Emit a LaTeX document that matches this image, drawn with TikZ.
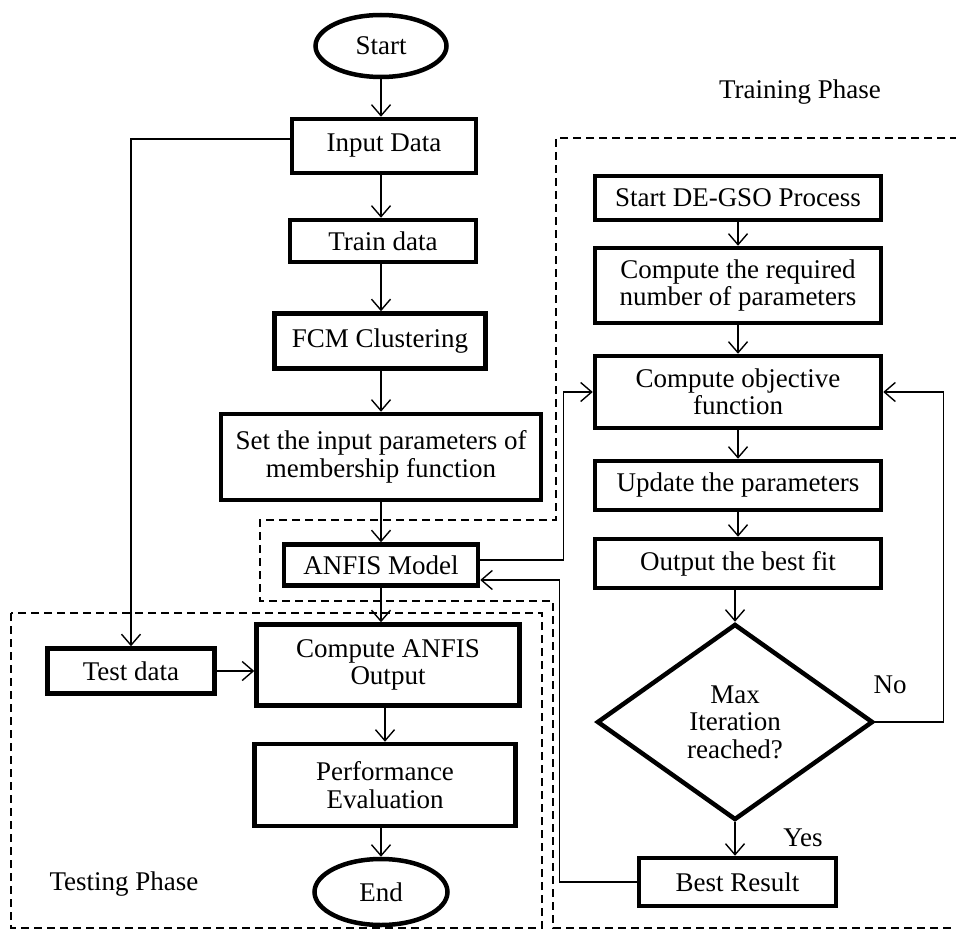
\documentclass[tikz,border=0pt]{standalone}
\usepackage{fontspec}
\setmainfont{Liberation Serif}
\usetikzlibrary{shapes.geometric,arrows.meta}
\begin{document}
\begin{tikzpicture}[x=1pt,y=-1pt,
  box/.style={draw,line width=4.5pt,align=center,inner sep=0pt,font=\fontsize{27}{27.5}\selectfont},
  term/.style={box,ellipse},
  dec/.style={box,diamond},
  conn/.style={line width=1.4pt,-{Straight Barb[length=11pt,width=19pt,line width=1.4pt]}},
  phase/.style={line width=1.6pt,dash pattern=on 8pt off 5pt},
  lbl/.style={font=\fontsize{27}{27.5}\selectfont,inner sep=0pt}
]
\fill[white] (0,0) rectangle (956,931);
\useasboundingbox (0,0) rectangle (956,931);

% phase regions
\draw[phase] (958,138) -- (556,138) -- (556,520) -- (260,520) -- (260,601) -- (553,601) -- (553,928) -- (958,928);
\draw[phase] (11,613) rectangle (542,928);

% left column
\node[term,minimum width=131,minimum height=62] (start) at (381,46) {Start};
\node[box,minimum width=184,minimum height=54] (input) at (384,146) {Input Data};
\node[box,minimum width=186,minimum height=42] (train) at (383,241) {Train data};
\node[box,minimum width=211,minimum height=55] (fcm) at (380,341) {FCM Clustering};
\node[box,minimum width=320,minimum height=86] (setp) at (381,457) {Set the input parameters of\\membership function};
\node[box,minimum width=194,minimum height=41] (anfis) at (381,565) {ANFIS Model};
\node[box,minimum width=167,minimum height=45] (test) at (131,671) {Test data};
\node[box,minimum width=263,minimum height=81] (comp) at (388,665) {Compute ANFIS\\Output};
\node[box,minimum width=261,minimum height=82] (perf) at (385,785) {Performance\\Evaluation};
\node[term,minimum width=133,minimum height=66] (end) at (381,892) {End};

% right column
\node[box,minimum width=286,minimum height=44] (dstart) at (738,198) {Start DE-GSO Process};
\node[box,minimum width=286,minimum height=75] (req) at (738,285.5) {Compute the required\\number of parameters};
\node[box,minimum width=286,minimum height=72] (obj) at (738,392) {Compute objective\\function};
\node[box,minimum width=286,minimum height=49] (upd) at (738,485.5) {Update the parameters};
\node[box,minimum width=286,minimum height=49] (outb) at (738,563.5) {Output the best fit};
\node[dec,minimum width=276,minimum height=196] (dia) at (735,722) {Max\\Iteration\\reached?};
\node[box,minimum width=197,minimum height=48] (best) at (737.5,882) {Best Result};

% labels
\node[lbl] (trp) at (800,92) {Training Phase};
\node[lbl] (tsp) at (124,884) {Testing Phase};
\node[lbl] (no) at (890,685) {No};
\node[lbl] (yes) at (803,838) {Yes};

% connectors left
\draw[conn] (start.south) -- (start.south |- input.north);
\draw[conn] (start.south |- input.south) -- (start.south |- train.north);
\draw[conn] (start.south |- train.south) -- (start.south |- fcm.north);
\draw[conn] (start.south |- fcm.south) -- (start.south |- setp.north);
\draw[conn] (start.south |- setp.south) -- (start.south |- anfis.north);
\draw[conn] (start.south |- anfis.south) -- (start.south |- comp.north);
\draw[conn] (perf.north |- comp.south) -- (perf.north);
\draw[conn] (end.north |- perf.south) -- (end.north);
\draw[conn] (test.east) -- (test.east -| comp.west);
\draw[conn] ([yshift=7pt]input.west) -| (test.north);

% connectors right
\draw[conn] (dstart.south) -- (req.north);
\draw[conn] (req.south) -- (obj.north);
\draw[conn] (obj.south) -- (upd.north);
\draw[conn] (upd.south) -- (outb.north);
\draw[conn] (dia.north |- outb.south) -- (dia.north);
\draw[conn] (dia.south) -- (dia.south |- best.north);
\draw[conn] (dia.east) -- ++(68,0) |- (obj.east);
\draw[conn] ([yshift=5pt]anfis.east) -- ++(83,0) |- (obj.west);
\draw[conn] (best.west) -- ++(-77,0) |- ([yshift=-15pt]anfis.east);
\end{tikzpicture}
\end{document}
